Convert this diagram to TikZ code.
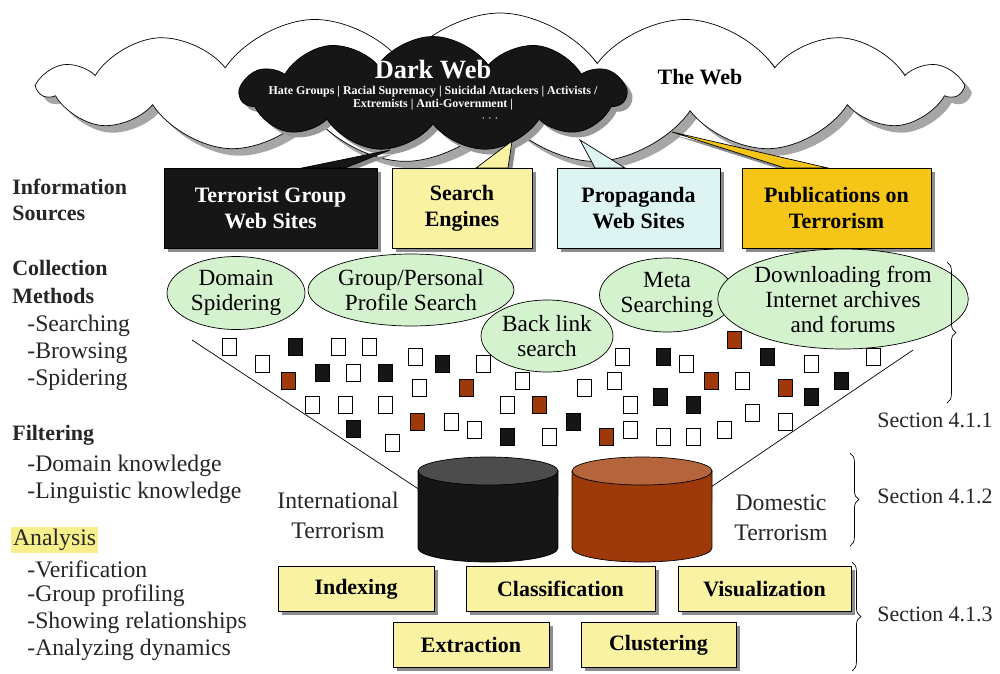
\documentclass[tikz,border=0pt]{standalone}
\usepackage{fontspec}
\setmainfont{Liberation Serif}
\usetikzlibrary{shapes.symbols,shapes.geometric,shadows,decorations.pathreplacing}

\definecolor{srcyellow}{HTML}{F8F2A2}
\definecolor{srccyan}{HTML}{DDF4F3}
\definecolor{srcgold}{HTML}{F5C518}
\definecolor{darkfill}{HTML}{161616}
\definecolor{rust}{HTML}{9E3A0A}
\definecolor{rusttop}{HTML}{B5653B}
\definecolor{methgreen}{HTML}{D5F2CF}
\definecolor{hilite}{HTML}{F6EF8C}
\definecolor{labelgray}{HTML}{262626}

\begin{document}
\begin{tikzpicture}[
            x=0.02cm,y=-0.02cm,
            boxshadow/.style={drop shadow={shadow xshift=2.2pt,shadow yshift=-2.2pt,opacity=1,fill=black!45}},
            webcloud/.style={cloud,cloud ignores aspect,draw,thin,inner sep=0pt},
            srcbox/.style={draw,thin,boxshadow,align=center,inner sep=0pt,minimum height=1.6cm,font=\fontsize{12.5}{14.8}\selectfont\bfseries},
            tail/.style={draw,thin,line join=miter,boxshadow},
            method/.style={ellipse,draw,thin,fill=methgreen,inner sep=0pt,align=center,font=\fontsize{13.2}{14.2}\selectfont},
            doc/.style={draw,thin,inner sep=0pt,minimum width=0.28cm,minimum height=0.34cm},
            cylside/.style={draw,thin},
            cylabel/.style={align=center,text=labelgray,font=\fontsize{13.5}{17}\selectfont},
            anabox/.style={draw,thin,fill=srcyellow,boxshadow,inner sep=0pt,minimum height=0.9cm,font=\fontsize{12.5}{14}\selectfont\bfseries},
            sidehead/.style={anchor=west,inner sep=0pt,text=labelgray,font=\fontsize{12.5}{15}\selectfont\bfseries},
            sideitem/.style={anchor=west,inner sep=0pt,text=labelgray,font=\fontsize{13.5}{16}\selectfont},
            seclabel/.style={text=labelgray,font=\fontsize{12.5}{15}\selectfont},
            secbrace/.style={decorate,decoration={brace,amplitude=5pt},thin}
        ]
            \useasboundingbox[fill=white] (0,0) rectangle (1000,673);

            % the web and the dark web
            \node[webcloud,fill=white,cloud puffs=15,cloud puff arc=110,minimum width=18.4cm,minimum height=3cm,
                drop shadow={shadow xshift=4pt,shadow yshift=-4pt,opacity=1,fill=black!35}] (web) at (500,88) {};
            \node[webcloud,fill=darkfill,cloud puffs=11,cloud puff arc=110,minimum width=7.7cm,minimum height=2.3cm,
                drop shadow={shadow xshift=3pt,shadow yshift=-3pt,opacity=1,fill=black!40}] (dark) at (433,94) {};
            \node[text=white,font=\fontsize{15}{17}\selectfont\bfseries] (darktitle) at (433,70) {Dark Web};
            \node[text=white,align=center,inner sep=0pt,font=\fontsize{6.8}{7.6}\selectfont\bfseries] (darklist) at (433,98)
                {Hate Groups | Racial Supremacy | Suicidal Attackers | Activists /\\Extremists | Anti-Government |};
            \node[text=white,inner sep=0pt,font=\fontsize{7}{8}\selectfont] (darkmore) at (490,119) {$\cdots$};
            \node[font=\fontsize{12.5}{15}\selectfont\bfseries] (theweb) at (700,77) {The Web};

            % callout tails
            \filldraw[tail,fill=darkfill] (302,168) -- (390,150) -- (345,168) -- cycle;
            \filldraw[tail,fill=srcyellow] (476,168) -- (512,141) -- (508,168) -- cycle;
            \filldraw[tail,fill=srccyan] (595,168) -- (580,140) -- (625,168) -- cycle;
            \filldraw[tail,fill=srcgold] (785,168) -- (672,132) -- (828,168) -- cycle;

            % information sources
            \node[srcbox,fill=darkfill,text=white,minimum width=4.26cm] (tgws) at (270.5,208) {Terrorist Group\\Web Sites};
            \node[srcbox,fill=srcyellow,minimum width=2.8cm] (engines) at (462,208) {Search\\Engines};
            \node[srcbox,fill=srccyan,minimum width=3.26cm] (propaganda) at (638.5,208) {Propaganda\\Web Sites};
            \node[srcbox,fill=srcgold,minimum width=3.78cm] (publications) at (836.5,208) {Publications on\\Terrorism};

            % collection methods
            \node[method,minimum width=2.76cm,minimum height=1.46cm] (domspider) at (236,293) {Domain\\Spidering};
            \node[method,minimum width=4.02cm,minimum height=1.44cm] (profile) at (411,290) {Group/Personal\\Profile Search};
            \node[method,minimum width=2.64cm,minimum height=1.44cm] (backlink) at (547,336) {Back link\\search};
            \node[method,minimum width=2.7cm,minimum height=1.48cm] (metasearch) at (667,295) {Meta\\Searching};
            \node[method,minimum width=3.96cm,minimum height=2cm] (archives) at (843,299) {Downloading from\\Internet archives\\and forums};

            % funnel
            \coordinate (fnlL) at (192,340);
            \coordinate (fnlLend) at (420,490);
            \coordinate (fnlR) at (913,350);
            \coordinate (fnlRend) at (711,487);
            \draw[thin] (fnlL) -- (fnlLend);
            \draw[thin] (fnlR) -- (fnlRend);

            % collected pages
            \foreach \x/\y [count=\i] in {229/347,262/364,338/347,369/347,353/373,415/357,483/364,419/388,522/381,
                312/405,345/405,385/405,392/443,451/422,474/430,507/405,549/437,584/388,614/381,622/357,686/364,
                630/405,630/430,663/437,693/437,724/430,742/381,752/413,785/422,811/364,873/357}
                \node[doc,fill=white] (w\i) at (\x,\y) {};
            \foreach \x/\y [count=\i] in {295/347,322/373,385/373,442/364,353/429,507/437,573/422,663/357,660/397,
                693/405,767/357,811/397,841/381}
                \node[doc,fill=darkfill] (b\i) at (\x,\y) {};
            \foreach \x/\y [count=\i] in {288/381,466/388,417/422,539/405,606/437,711/381,734/340,785/388}
                \node[doc,fill=rust] (o\i) at (\x,\y) {};

            % collections
            \filldraw[cylside,fill=darkfill] (418,471) -- (418,548) arc[start angle=180,end angle=360,x radius=1.4cm,y radius=0.28cm]
                -- (558,471) -- cycle;
            \filldraw[cylside,fill=black!70] (488,471) ellipse[x radius=1.4cm,y radius=0.28cm];
            \filldraw[cylside,fill=rust] (572,471) -- (572,548) arc[start angle=180,end angle=360,x radius=1.4cm,y radius=0.28cm]
                -- (712,471) -- cycle;
            \filldraw[cylside,fill=rusttop] (642,471) ellipse[x radius=1.4cm,y radius=0.28cm];
            \node[cylabel] (intllbl) at (338,515) {International\\Terrorism};
            \node[cylabel] (domlbl) at (781,518) {Domestic\\Terrorism};

            % analysis
            \node[anabox,minimum width=3.12cm] (indexing) at (356,589) {Indexing};
            \node[anabox,minimum width=3.78cm] (classif) at (560.5,589) {Classification};
            \node[anabox,minimum width=3.46cm] (visual) at (764.5,589) {Visualization};
            \node[anabox,minimum width=3.12cm] (extract) at (471,645) {Extraction};
            \node[anabox,minimum width=3.1cm] (cluster) at (658.5,645) {Clustering};

            % sections
            \draw[secbrace] (947,262) -- (947,403);
            \draw[secbrace] (850,453) -- (850,546);
            \draw[secbrace] (852,562) -- (852,671);
            \node[seclabel] (sec1) at (935,420) {Section 4.1.1};
            \node[seclabel] (sec2) at (935,496) {Section 4.1.2};
            \node[seclabel] (sec3) at (935,614) {Section 4.1.3};

            % left side labels
            \foreach \t/\y [count=\i] in {Information/187,Sources/213,Collection/268,Methods/296,Filtering/435}
                \node[sidehead] (head\i) at (12,\y) {\t};
            \node[sideitem,fill=hilite,inner sep=1pt] (analysis) at (11,540) {Analysis};
            \foreach \t/\y [count=\i] in {-Searching/326,-Browsing/353,-Spidering/380,-Domain knowledge/466,
                -Linguistic knowledge/493,-Verification/569,-Group profiling/596,-Showing relationships/623,
                -Analyzing dynamics/650}
                \node[sideitem] (item\i) at (27,\y) {\t};
        \end{tikzpicture}
\end{document}
